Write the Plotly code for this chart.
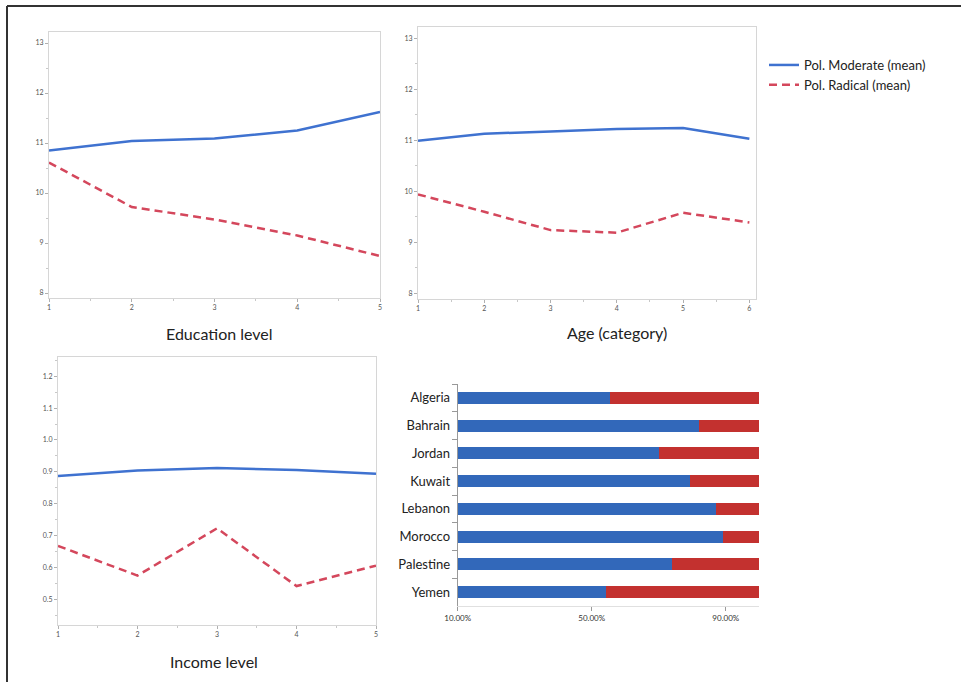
import plotly.graph_objects as go

W, H = 961, 682

# --- data -------------------------------------------------------------
edu_levels = [1, 2, 3, 4, 5]
edu_moderate = [10.85, 11.04, 11.09, 11.25, 11.62]
edu_radical = [10.61, 9.72, 9.47, 9.15, 8.74]

age_cats = [1, 2, 3, 4, 5, 6]
age_moderate = [10.99, 11.13, 11.17, 11.22, 11.24, 11.03]
age_radical = [9.94, 9.60, 9.24, 9.19, 9.58, 9.39]

income_levels = [1, 2, 3, 4, 5]
income_moderate = [0.887, 0.904, 0.912, 0.906, 0.894]
income_radical = [0.668, 0.575, 0.723, 0.542, 0.606]

countries = ["Algeria", "Bahrain", "Jordan", "Kuwait", "Lebanon",
             "Morocco", "Palestine", "Yemen"]
share_moderate = [55.5, 81.9, 70.0, 79.3, 87.0, 89.3, 74.0, 54.3]
share_radical = [100 - v for v in share_moderate]

pct_ticks = [10, 50, 90]
pct_labels = ["10.00%", "50.00%", "90.00%"]

# --- styling ------------------------------------------------------------
BLUE_LINE = "#3f72d0"
RED_LINE = "#d4475c"
BLUE_BAR = "#3268ba"
RED_BAR = "#c3312f"
FONT = "Lato"


def xdom(a, b):
    return [a / W, b / W]


def ydom(top, bottom):
    return [1 - bottom / H, 1 - top / H]


fig = go.Figure()

line_panels = [
    ("x", "y", edu_levels, edu_moderate, edu_radical, True),
    ("x2", "y2", age_cats, age_moderate, age_radical, False),
    ("x3", "y3", income_levels, income_moderate, income_radical, False),
]
for xa, ya, xs, mod, rad, show in line_panels:
    fig.add_trace(go.Scatter(x=xs, y=mod, mode="lines", name="Pol. Moderate (mean)",
                             line=dict(color=BLUE_LINE, width=2.5),
                             xaxis=xa, yaxis=ya, showlegend=show))
    fig.add_trace(go.Scatter(x=xs, y=rad, mode="lines", name="Pol. Radical (mean)",
                             line=dict(color=RED_LINE, width=2.5, dash="8px,5px"),
                             xaxis=xa, yaxis=ya, showlegend=show))

# stacked country bars
fig.add_trace(go.Bar(y=countries, x=share_moderate, orientation="h",
                     marker=dict(color=BLUE_BAR, line=dict(width=0)),
                     width=0.43, xaxis="x4", yaxis="y4", showlegend=False))
fig.add_trace(go.Bar(y=countries, x=share_radical, orientation="h",
                     marker=dict(color=RED_BAR, line=dict(width=0)),
                     width=0.43, xaxis="x4", yaxis="y4", showlegend=False))

line_axis = dict(showline=True, linecolor="#d6d6d6", linewidth=1, mirror=True,
                 showgrid=False, zeroline=False, ticks="outside", ticklen=3,
                 automargin=False,
                 tickcolor="#b0b0b0", tickfont=dict(family=FONT, size=7, color="#555"),
                 minor=dict(ticks="outside", ticklen=2, tickcolor="#c8c8c8"))

fig.update_layout(
    width=W, height=H, margin=dict(l=0, r=0, t=0, b=0, autoexpand=False),
    paper_bgcolor="white", plot_bgcolor="white",
    barmode="stack", bargap=0.57,
    font=dict(family=FONT, color="#222"),
    xaxis=dict(line_axis, domain=xdom(49, 380), range=[1, 5], dtick=1,
               minor=dict(line_axis["minor"], dtick=0.5), anchor="y"),
    yaxis=dict(line_axis, domain=ydom(32, 298), range=[7.9, 13.22], dtick=1,
               minor=dict(line_axis["minor"], dtick=0.5), anchor="x"),
    xaxis2=dict(line_axis, domain=xdom(418, 756), range=[1, 6.1], dtick=1,
                minor=dict(line_axis["minor"], dtick=0.5), anchor="y2"),
    yaxis2=dict(line_axis, domain=ydom(27, 299), range=[7.89, 13.22], dtick=1,
                minor=dict(line_axis["minor"], dtick=0.5), anchor="x2"),
    xaxis3=dict(line_axis, domain=xdom(58, 376), range=[1, 5], dtick=1,
                minor=dict(line_axis["minor"], dtick=0.5), anchor="y3"),
    yaxis3=dict(line_axis, domain=ydom(357, 625), range=[0.42, 1.26], dtick=0.1,
                tickformat=".1f", minor=dict(line_axis["minor"], dtick=0.05), anchor="x3"),
    xaxis4=dict(domain=xdom(457.7, 759.3), range=[10, 100], anchor="y4",
                tickvals=pct_ticks, ticktext=pct_labels, showgrid=False, zeroline=False,
                showline=True, linecolor="#e0e0e0", linewidth=1, automargin=False,
                ticks="outside", ticklen=4, tickcolor="#999",
                tickfont=dict(family=FONT, size=8, color="#333")),
    yaxis4=dict(domain=ydom(384, 606), anchor="x4", autorange="reversed",
                type="category", showgrid=False, zeroline=False, automargin=False,
                showline=True, linecolor="#999", linewidth=1,
                ticks="outside", ticklen=5, tickcolor="#999", tickson="boundaries",
                ticklabelstandoff=4,
                tickfont=dict(family=FONT, size=13, color="#222")),
    legend=dict(x=764 / W, y=1 - 50 / H, xanchor="left", yanchor="top",
                bgcolor="rgba(0,0,0,0)", tracegroupgap=0, traceorder="normal",
                font=dict(family=FONT, size=13, color="#222"),
                itemwidth=30),
)

# axis titles
for text, xc, yc in [("Education level", 219, 333), ("Age (category)", 617, 332),
                     ("Income level", 214, 661)]:
    fig.add_annotation(text=text, x=xc / W, y=1 - yc / H, xref="paper", yref="paper",
                       showarrow=False, xanchor="center", yanchor="middle",
                       font=dict(family=FONT, size=16, color="#222"))

# outer frame (top and left edges)
fig.add_shape(type="line", xref="paper", yref="paper", x0=7 / W, x1=1,
              y0=1 - 6 / H, y1=1 - 6 / H, line=dict(color="#333", width=2))
fig.add_shape(type="line", xref="paper", yref="paper", x0=7 / W, x1=7 / W,
              y0=0, y1=1 - 6 / H, line=dict(color="#333", width=2))

fig.write_html("out.html")
